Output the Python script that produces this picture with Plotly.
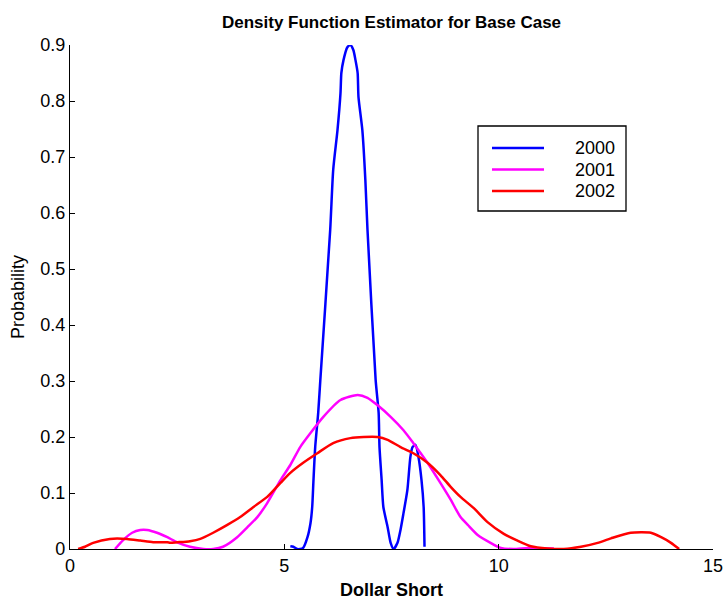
import plotly.graph_objects as go

# ---- data ----
names = ["2000", "2001", "2002"]
colors = ["#0000FF", "#FF00FF", "#FF0000"]

x2000 = [5.14, 5.21, 5.30, 5.37, 5.44, 5.54, 5.61, 5.65, 5.68, 5.72, 5.79, 5.84, 6.07, 6.14,
         6.24, 6.31, 6.33, 6.38, 6.47, 6.54, 6.61, 6.66, 6.71, 6.73, 6.82, 6.89, 6.94, 7.13,
         7.20, 7.22, 7.27, 7.31, 7.41, 7.48, 7.55, 7.64, 7.71, 7.78, 7.87, 7.94, 7.99, 8.06,
         8.13, 8.20, 8.25, 8.27]
y2000 = [0.005, 0.004, 0.0, 0.0, 0.002, 0.021, 0.046, 0.075, 0.123, 0.182, 0.243, 0.302, 0.570, 0.677,
         0.748, 0.814, 0.850, 0.873, 0.896, 0.900, 0.891, 0.873, 0.850, 0.807, 0.748, 0.659, 0.570, 0.302,
         0.243, 0.182, 0.123, 0.075, 0.039, 0.011, 0.0, 0.011, 0.034, 0.064, 0.105, 0.164, 0.182, 0.186,
         0.164, 0.123, 0.075, 0.004]

x2001 = [1.05, 1.24, 1.45, 1.64, 1.80, 2.03, 2.27, 2.50, 2.80, 3.11, 3.34, 3.57, 3.90, 4.14,
         4.37, 4.60, 4.91, 5.14, 5.37, 5.61, 5.91, 6.31, 6.71, 6.94, 7.17, 7.48, 7.78, 8.01, 8.34,
         8.64, 8.88, 9.11, 9.28, 9.51, 9.81, 10.05, 10.35, 10.68, 10.98, 11.29]
y2001 = [0.0, 0.016, 0.029, 0.034, 0.034, 0.029, 0.021, 0.012, 0.004, 0.0, 0.0, 0.004, 0.021, 0.039,
         0.057, 0.082, 0.123, 0.150, 0.182, 0.207, 0.236, 0.266, 0.275, 0.270, 0.257, 0.236, 0.212, 0.189, 0.154,
         0.118, 0.088, 0.057, 0.043, 0.025, 0.011, 0.002, 0.0, 0.002, 0.001, 0.001]

x2002 = [0.19, 0.35, 0.54, 0.93, 1.33, 1.64, 1.94, 2.27, 2.34, 2.50, 2.80, 3.04, 3.34, 3.67,
         3.97, 4.28, 4.60, 4.91, 5.14, 5.44, 5.77, 6.14, 6.54, 6.85, 7.17, 7.41, 7.71, 8.01,
         8.34, 8.64, 8.88, 9.11, 9.42, 9.74, 10.12, 10.44, 10.75, 11.14, 11.52, 11.92, 12.31,
         12.62, 13.08, 13.55, 13.79, 14.02, 14.21]
y2002 = [0.0, 0.004, 0.011, 0.018, 0.018, 0.015, 0.012, 0.012, 0.011, 0.012, 0.014, 0.018, 0.029, 0.043,
         0.057, 0.075, 0.093, 0.118, 0.136, 0.154, 0.171, 0.189, 0.198, 0.200, 0.200, 0.195, 0.182, 0.171,
         0.154, 0.132, 0.111, 0.093, 0.073, 0.048, 0.027, 0.015, 0.005, 0.001, 0.0, 0.004, 0.011,
         0.019, 0.029, 0.029, 0.021, 0.011, 0.0]

xs = [x2000, x2001, x2002]
ys = [y2000, y2001, y2002]

x_ticks = [0, 5, 10, 15]
y_ticks = [0, 0.1, 0.2, 0.3, 0.4, 0.5, 0.6, 0.7, 0.8, 0.9]

FONT = "Liberation Sans, Arial, sans-serif"

fig = go.Figure()
for x, y, n, c in zip(xs, ys, names, colors):
    fig.add_trace(go.Scatter(x=x, y=y, mode="lines", name=n,
                             line=dict(color=c, width=2.5, shape="spline", smoothing=0.6),
                             cliponaxis=False, showlegend=False))

# custom legend box (MATLAB style)
W, H = 726, 600
L, R, T, B = 70, 13, 45, 51
pw, ph = W - L - R, H - T - B

def px2paper(px, py):
    return (px - L) / pw, (H - B - py) / ph

bx0, by0 = px2paper(478, 211)
bx1, by1 = px2paper(626, 126)
fig.add_shape(type="rect", xref="paper", yref="paper", x0=bx0, y0=by0, x1=bx1, y1=by1,
              line=dict(color="black", width=1.3), fillcolor="white", layer="above")
for i, (n, c) in enumerate(zip(names, colors)):
    ly = 148 + i * 21.5
    lx0, lyp = px2paper(492, ly)
    lx1, _ = px2paper(544, ly)
    fig.add_shape(type="line", xref="paper", yref="paper", x0=lx0, x1=lx1, y0=lyp, y1=lyp,
                  line=dict(color=c, width=2.5), layer="above")
    tx, _ = px2paper(617, ly)
    fig.add_annotation(xref="paper", yref="paper", x=tx, y=lyp, text=n, showarrow=False,
                       xanchor="right", yanchor="middle",
                       font=dict(family=FONT, size=18, color="black"))

fig.update_layout(
    width=W, height=H,
    margin=dict(l=L, r=R, t=T, b=B),
    paper_bgcolor="white", plot_bgcolor="white",
    font=dict(family=FONT, size=18, color="black"),
    title=dict(text="<b>Density Function Estimator for Base Case</b>",
               x=(L + pw / 2) / W, xanchor="center", y=1 - 22 / H, yanchor="middle",
               font=dict(family=FONT, size=17, color="black")),
)
fig.update_xaxes(range=[0, 15], tickvals=x_ticks, ticks="inside", ticklen=5,
                 tickcolor="black", showline=True, linecolor="black", linewidth=1.3,
                 showgrid=False, zeroline=False, automargin=False,
                 tickfont=dict(family=FONT, size=18),
                 title=dict(text="<b>Dollar Short</b>", standoff=12,
                            font=dict(family=FONT, size=18)))
fig.update_yaxes(range=[0, 0.9], tickvals=y_ticks, ticks="inside", ticklen=5,
                 tickcolor="black", showline=True, linecolor="black", linewidth=1.3,
                 showgrid=False, zeroline=False, automargin=False,
                 tickfont=dict(family=FONT, size=18),
                 title=dict(text="Probability", standoff=10,
                            font=dict(family=FONT, size=18)))

fig.write_html("out.html")
